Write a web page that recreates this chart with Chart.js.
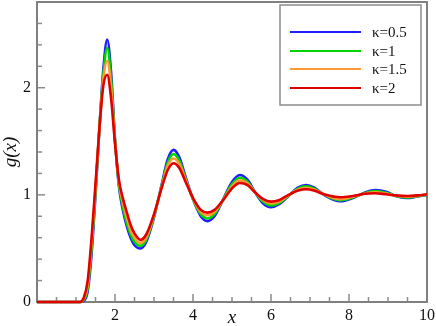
<!DOCTYPE html>
<html><head><meta charset="utf-8">
<script src="https://cdn.jsdelivr.net/npm/chart.js@4/dist/chart.umd.min.js"></script>
<style>html,body{margin:0;padding:0;background:#fff}#wrap{width:436px;height:326px}</style>
</head><body><div id="wrap"><canvas id="c" width="436" height="326"></canvas></div>
<script>
const xValues = [0, 0.5, 1.0, 1.1, 1.2, 1.3, 1.4, 1.5, 1.6, 1.7, 1.8, 1.9, 2.0, 2.1, 2.2, 2.3, 2.4, 2.5, 2.65, 2.8, 3.0, 3.2, 3.35, 3.5, 3.65, 3.8, 4.0, 4.2, 4.37, 4.55, 4.75, 5.0, 5.2, 5.4, 5.6, 5.8, 6.0, 6.2, 6.45, 6.7, 6.9, 7.1, 7.4, 7.77, 8.1, 8.4, 8.67, 8.95, 9.2, 9.5, 9.75, 10];
const gKappa05 = [0, 0, 0, 0, 0.01, 0.1, 0.45, 1.0, 1.62, 2.17, 2.45, 2.14, 1.52, 1.08, 0.86, 0.71, 0.6, 0.53, 0.50, 0.56, 0.79, 1.1, 1.33, 1.42, 1.35, 1.18, 0.96, 0.8, 0.755, 0.8, 0.94, 1.12, 1.185, 1.14, 1.02, 0.92, 0.885, 0.91, 0.99, 1.07, 1.092, 1.07, 0.99, 0.94, 0.97, 1.02, 1.045, 1.03, 0.99, 0.97, 0.985, 1.0];
const gKappa1 = [0, 0, 0, 0, 0.02, 0.13, 0.5, 1.03, 1.62, 2.12, 2.37, 2.08, 1.51, 1.1, 0.89, 0.74, 0.63, 0.56, 0.525, 0.58, 0.8, 1.09, 1.3, 1.38, 1.32, 1.16, 0.96, 0.82, 0.78, 0.82, 0.94, 1.1, 1.16, 1.12, 1.02, 0.935, 0.90, 0.92, 0.99, 1.06, 1.08, 1.06, 0.995, 0.95, 0.975, 1.015, 1.035, 1.02, 0.99, 0.975, 0.988, 1.002];
const gKappa15 = [0, 0, 0, 0, 0.03, 0.16, 0.55, 1.06, 1.62, 2.08, 2.25, 2.0, 1.5, 1.12, 0.93, 0.79, 0.67, 0.6, 0.55, 0.6, 0.81, 1.08, 1.27, 1.34, 1.29, 1.15, 0.965, 0.84, 0.81, 0.84, 0.94, 1.08, 1.135, 1.105, 1.02, 0.95, 0.92, 0.935, 0.995, 1.05, 1.065, 1.05, 0.998, 0.96, 0.982, 1.012, 1.025, 1.012, 0.992, 0.982, 0.99, 1.003];
const gKappa2 = [0, 0, 0, 0, 0.04, 0.2, 0.6, 1.1, 1.62, 2.02, 2.12, 1.9, 1.48, 1.14, 0.97, 0.84, 0.72, 0.64, 0.58, 0.63, 0.82, 1.07, 1.23, 1.295, 1.25, 1.13, 0.97, 0.86, 0.834, 0.86, 0.94, 1.06, 1.11, 1.09, 1.02, 0.96, 0.937, 0.95, 1.0, 1.04, 1.052, 1.04, 1.0, 0.977, 0.99, 1.01, 1.015, 1.005, 0.995, 0.99, 0.995, 1.005];
const seriesLabels = ['κ=0.5', 'κ=1', 'κ=1.5', 'κ=2'];
const seriesValues = [gKappa05, gKappa1, gKappa15, gKappa2];
const seriesColors = ['#1f1fff', '#00d400', '#ff9933', '#e00000'];
const xTickLabels = [2, 4, 6, 8, 10];
const yTickLabels = [0, 1, 2];

const SERIF = "'Liberation Serif', 'DejaVu Serif', serif";

const datasets = seriesValues.map((vals, i) => ({
  label: seriesLabels[i],
  data: xValues.map((x, j) => ({x: x, y: vals[j]})),
  borderColor: seriesColors[i],
  backgroundColor: seriesColors[i],
  borderWidth: 2.6,
  pointRadius: 0,
  fill: false,
  cubicInterpolationMode: 'monotone',
  order: seriesValues.length - 1 - i,
  clip: 4
}));

const framePlugin = {
  id: 'frame',
  beforeDatasetsDraw(chart) {
    const {ctx, chartArea: a, scales} = chart;
    const xs = scales.x, ys = scales.y;
    ctx.save();
    ctx.strokeStyle = '#8c8c8c';
    ctx.lineWidth = 1.5;
    for (let k = 1; k < 20; k++) {
      const v = k * 0.5;
      const px = xs.getPixelForValue(v);
      const len = (v % 2 === 0) ? 8 : 5;
      ctx.beginPath(); ctx.moveTo(px, a.bottom); ctx.lineTo(px, a.bottom - len); ctx.stroke();
    }
    for (let k = 1; k < 14; k++) {
      const v = Math.round(k * 0.2 * 10) / 10;
      const py = ys.getPixelForValue(v);
      const len = (Math.abs(v - Math.round(v)) < 1e-6) ? 8 : 5;
      ctx.beginPath(); ctx.moveTo(a.left, py); ctx.lineTo(a.left + len, py); ctx.stroke();
    }
    ctx.strokeStyle = '#808080';
    ctx.lineWidth = 2;
    ctx.strokeRect(a.left, a.top, a.right - a.left, a.bottom - a.top);
    ctx.restore();
  },
  afterDatasetsDraw(chart) {
    const {ctx} = chart;
    ctx.save();
    const bx = 280, by = 5, bw = 141, bh = 100;
    ctx.fillStyle = '#fff';
    ctx.fillRect(bx, by, bw, bh);
    ctx.strokeStyle = '#8c8c8c';
    ctx.lineWidth = 1.5;
    ctx.strokeRect(bx, by, bw, bh);
    const rows = [32, 51, 69, 88];
    seriesLabels.forEach((lab, i) => {
      ctx.strokeStyle = seriesColors[i];
      ctx.lineWidth = 2;
      ctx.beginPath(); ctx.moveTo(290, rows[i]); ctx.lineTo(361, rows[i]); ctx.stroke();
      ctx.fillStyle = '#111';
      ctx.font = '15px ' + SERIF;
      ctx.textBaseline = 'middle';
      ctx.textAlign = 'left';
      ctx.fillText(lab, 372, rows[i] + 1);
    });
    ctx.restore();
  }
};

new Chart(document.getElementById('c'), {
  type: 'line',
  data: {datasets},
  plugins: [framePlugin],
  options: {
    responsive: false,
    devicePixelRatio: 1,
    animation: false,
    events: [],
    layout: {padding: {left: 0, right: 9, top: 2, bottom: 0}},
    plugins: {legend: {display: false}, tooltip: {enabled: false}},
    scales: {
      x: {
        type: 'linear', min: 0, max: 10,
        grid: {display: false, drawTicks: false},
        border: {display: false},
        ticks: {
          stepSize: 2, padding: 4, color: '#111', maxRotation: 0, autoSkip: false,
          font: {family: SERIF, size: 16},
          callback: v => xTickLabels.includes(v) ? String(v) : ''
        },
        title: {display: true, text: 'x', color: '#111', padding: {top: 0, bottom: 0},
          font: {family: SERIF, size: 19, style: 'italic', lineHeight: 0.85}},
        afterFit(s) { s.height = 24; s.paddingLeft = 0; s.paddingRight = 0; }
      },
      y: {
        type: 'linear', min: 0, max: 2.8,
        grid: {display: false, drawTicks: false},
        border: {display: false},
        ticks: {
          stepSize: 1, padding: 6, color: '#111', autoSkip: false,
          font: {family: SERIF, size: 16},
          callback: v => yTickLabels.includes(v) ? String(v) : ''
        },
        title: {display: true, text: 'g(x)', color: '#111', padding: {top: 0, bottom: 0},
          font: {family: SERIF, size: 19, style: 'italic'}},
        afterFit(s) { s.width = 37; s.paddingTop = 0; s.paddingBottom = 0; }
      }
    }
  }
});
</script>
</body></html>
